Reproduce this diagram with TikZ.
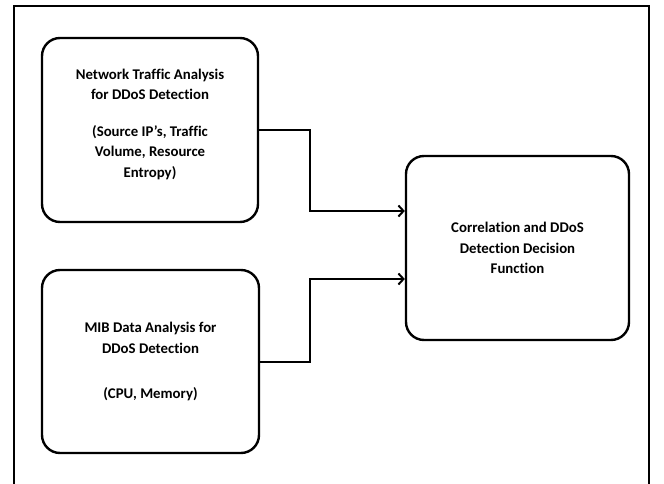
\documentclass[tikz,border=0pt]{standalone}
\usepackage{fontspec}
\setmainfont[RawFeature={-liga}]{Carlito}
\usetikzlibrary{arrows.meta,calc}
\begin{document}
\begin{tikzpicture}[x=1pt,y=-1pt,
 box/.style={draw, line width=2.4pt, rounded corners=18pt, inner sep=0pt},
 lbl/.style={font=\bfseries\fontsize{14.8}{20.5}\selectfont, align=center},
 conn/.style={line width=2pt, -{Straight Barb[length=5pt,width=11pt,line width=2pt]}}]
\useasboundingbox (0,0) rectangle (664,484);
\clip (0,0) rectangle (664,484);
\draw[line width=2.2pt] (14,6) rectangle (649,520);
\node[box, minimum width=216pt, minimum height=184pt] (b1) at (150,130) {};
\node[lbl] (b1t) at (150,124) {Network Traffic Analysis\\for DDoS Detection\\[16pt](Source IP’s, Traffic\\Volume, Resource\\Entropy)};
\node[box, lbl, minimum width=217pt, minimum height=183pt] (b2) at (150.5,361.5) {MIB Data Analysis for\\DDoS Detection\\[25pt](CPU, Memory)};
\node[box, lbl, minimum width=223pt, minimum height=184pt] (b3) at (517.5,248) {Correlation and DDoS\\Detection Decision\\Function};
\coordinate (j1) at (310,211);
\coordinate (j2) at (310,279);
\draw[conn] (b1.east) -| (j1) -- (j1 -| b3.west);
\draw[conn] (b2.east) -| (j2) -- (j2 -| b3.west);
\end{tikzpicture}
\end{document}
